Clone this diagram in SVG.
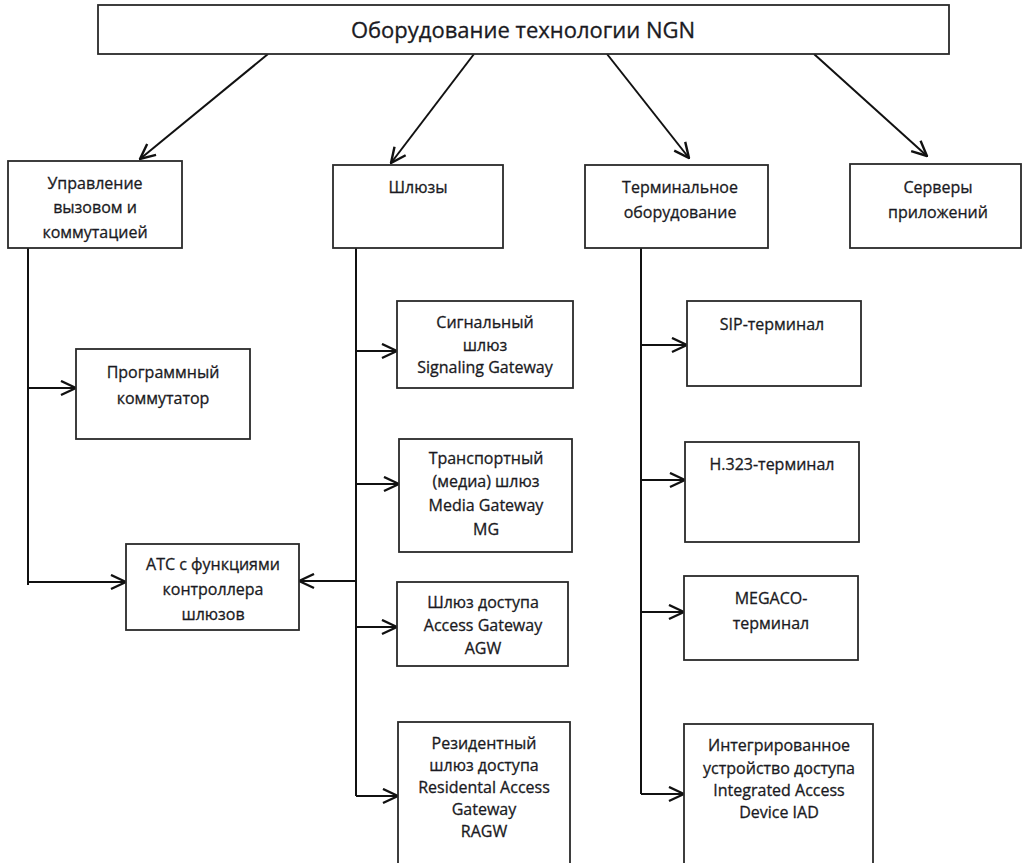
<svg xmlns="http://www.w3.org/2000/svg" width="1024" height="863" viewBox="0 0 1024 863">
  <style>
    .box { fill: #ffffff; stroke: #2a2a2a; stroke-width: 1.8; }
    .t { font-family: "Open Sans", "Liberation Sans", sans-serif; font-size: 16px; fill: #1a1a22; stroke: #1a1a22; stroke-width: 0.3; text-anchor: middle; }
    .title { font-size: 22px; }
    .ln { fill: none; stroke: #111111; stroke-width: 2; }
    .arr { marker-end: url(#ah); }
  </style>
  <defs>
    <marker id="ah" markerUnits="userSpaceOnUse" viewBox="0 0 17 17" markerWidth="17" markerHeight="17" refX="16" refY="8.5" orient="auto">
      <path d="M1,1.5 L16,8.5 L1,15.5" fill="none" stroke="#111111" stroke-width="2.4" stroke-linejoin="miter"/>
    </marker>
  </defs>
  <rect width="1024" height="863" fill="#ffffff"/>

  <g id="connectors">
    <line class="ln arr" x1="268" y1="54" x2="140" y2="159"/>
    <line class="ln arr" x1="474" y1="54" x2="391" y2="163"/>
    <line class="ln arr" x1="607" y1="54" x2="689" y2="158"/>
    <line class="ln arr" x1="814" y1="54" x2="927" y2="156"/>

    <path class="ln" d="M28,248 V585"/>
    <path class="ln arr" d="M28,388 H76"/>
    <path class="ln arr" d="M28,582 H126"/>

    <path class="ln" d="M356,248 V796"/>
    <path class="ln arr" d="M356,351 H397"/>
    <path class="ln arr" d="M356,484 H399"/>
    <path class="ln arr" d="M356,627 H397"/>
    <path class="ln arr" d="M356,796 H398"/>
    <path class="ln arr" d="M356,581 H299"/>

    <path class="ln" d="M641,248 V794"/>
    <path class="ln arr" d="M641,345 H687"/>
    <path class="ln arr" d="M641,480 H685"/>
    <path class="ln arr" d="M641,612 H684"/>
    <path class="ln arr" d="M641,794 H684"/>
  </g>

  <g id="ngn">
    <rect class="box" x="98" y="5" width="851" height="49"/>
    <text class="t title" x="523" y="38">Оборудование технологии NGN</text>
  </g>

  <g id="call-control">
    <rect class="box" x="8" y="161" width="174" height="87"/>
    <text class="t" x="95" y="189">Управление</text>
    <text class="t" x="95" y="213">вызовом и</text>
    <text class="t" x="95" y="238">коммутацией</text>
  </g>

  <g id="gateways">
    <rect class="box" x="333" y="165" width="170" height="83"/>
    <text class="t" x="418" y="193">Шлюзы</text>
  </g>

  <g id="terminal-equipment">
    <rect class="box" x="585" y="165" width="183" height="83"/>
    <text class="t" x="680" y="193">Терминальное</text>
    <text class="t" x="680" y="218">оборудование</text>
  </g>

  <g id="app-servers">
    <rect class="box" x="850" y="164" width="171" height="84"/>
    <text class="t" x="938" y="193">Серверы</text>
    <text class="t" x="938" y="218">приложений</text>
  </g>

  <g id="softswitch">
    <rect class="box" x="76" y="349" width="174" height="90"/>
    <text class="t" x="163" y="378">Программный</text>
    <text class="t" x="163" y="404">коммутатор</text>
  </g>

  <g id="ats">
    <rect class="box" x="126" y="544" width="173" height="86"/>
    <text class="t" x="213" y="570">АТС с функциями</text>
    <text class="t" x="213" y="595">контроллера</text>
    <text class="t" x="213" y="620">шлюзов</text>
  </g>

  <g id="signaling-gw">
    <rect class="box" x="397" y="301" width="176" height="87"/>
    <text class="t" x="485" y="328">Сигнальный</text>
    <text class="t" x="485" y="351">шлюз</text>
    <text class="t" x="485" y="373">Signaling Gateway</text>
  </g>

  <g id="media-gw">
    <rect class="box" x="399" y="439" width="173" height="113"/>
    <text class="t" x="486" y="464">Транспортный</text>
    <text class="t" x="486" y="487">(медиа) шлюз</text>
    <text class="t" x="486" y="511">Media Gateway</text>
    <text class="t" x="486" y="535">MG</text>
  </g>

  <g id="access-gw">
    <rect class="box" x="397" y="582" width="171" height="84"/>
    <text class="t" x="483" y="608">Шлюз доступа</text>
    <text class="t" x="483" y="631">Access Gateway</text>
    <text class="t" x="483" y="654">AGW</text>
  </g>

  <g id="residential-gw">
    <rect class="box" x="398" y="722" width="172" height="160"/>
    <text class="t" x="484" y="749">Резидентный</text>
    <text class="t" x="484" y="771">шлюз доступа</text>
    <text class="t" x="484" y="793">Residental Access</text>
    <text class="t" x="484" y="815">Gateway</text>
    <text class="t" x="484" y="837">RAGW</text>
  </g>

  <g id="sip-terminal">
    <rect class="box" x="687" y="301" width="174" height="85"/>
    <text class="t" x="772" y="330">SIP-терминал</text>
  </g>

  <g id="h323-terminal">
    <rect class="box" x="685" y="442" width="174" height="100"/>
    <text class="t" x="772" y="470">H.323-терминал</text>
  </g>

  <g id="megaco-terminal">
    <rect class="box" x="684" y="576" width="174" height="84"/>
    <text class="t" x="771" y="604">MEGACO-</text>
    <text class="t" x="771" y="629">терминал</text>
  </g>

  <g id="iad">
    <rect class="box" x="684" y="724" width="189" height="160"/>
    <text class="t" x="779" y="751">Интегрированное</text>
    <text class="t" x="779" y="774">устройство доступа</text>
    <text class="t" x="779" y="796">Integrated Access</text>
    <text class="t" x="779" y="818">Device IAD</text>
  </g>
</svg>
